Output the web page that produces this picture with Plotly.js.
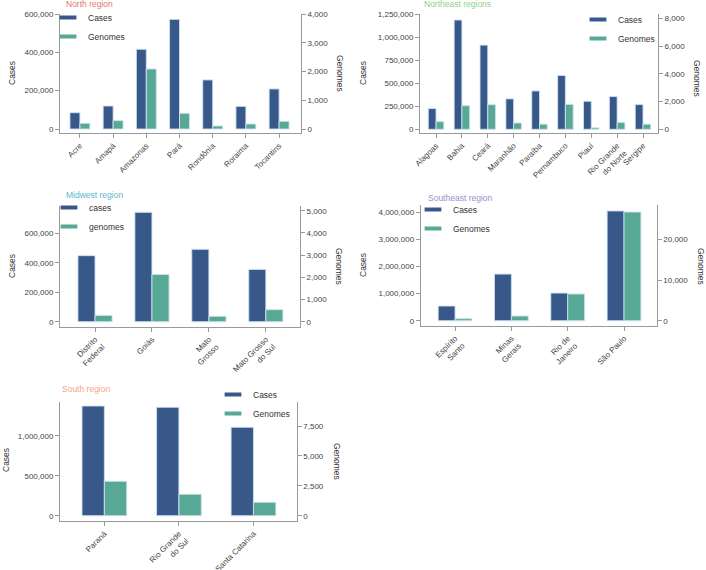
<!DOCTYPE html>
<html>
<head>
<meta charset="utf-8">
<script src="https://cdn.plot.ly/plotly-3.0.1.min.js"></script>
<style>
  html, body { margin: 0; padding: 0; background: #fff; }
  #chart { width: 706px; height: 570px; }
</style>
</head>
<body>
<div id="chart"></div>
<script>
/* DATA */
var northStates = ['Acre', 'Amapá', 'Amazonas', 'Pará', 'Rondônia', 'Roraima', 'Tocantins'];
var northLabels = ['Acre', 'Amapá', 'Amazonas', 'Pará', 'Rondônia', 'Roraima', 'Tocantins'];
var northCases = [85000, 120000, 416000, 572000, 256000, 118000, 209000];
var northGenomes = [198, 290, 2087, 546, 104, 174, 268];

var northeastStates = ['Alagoas', 'Bahia', 'Ceará', 'Maranhão', 'Paraíba', 'Pernambuco', 'Piauí', 'Rio Grande do Norte', 'Sergipe'];
var northeastLabels = ['Alagoas', 'Bahia', 'Ceará', 'Maranhão', 'Paraíba', 'Pernambuco', 'Piauí', 'Rio Grande<br>do Norte', 'Sergipe'];
var northeastCases = [225000, 1185000, 913000, 330000, 416000, 583000, 304000, 355000, 268000];
var northeastGenomes = [550, 1700, 1770, 455, 370, 1800, 105, 500, 370];

var midwestStates = ['Distrito Federal', 'Goiás', 'Mato Grosso', 'Mato Grosso do Sul'];
var midwestLabels = ['Distrito<br>Federal', 'Goiás', 'Mato<br>Grosso', 'Mato Grosso<br>do Sul'];
var midwestCases = [448000, 742000, 491000, 355000];
var midwestGenomes = [285, 2130, 243, 541];

var southeastStates = ['Espírito Santo', 'Minas Gerais', 'Rio de Janeiro', 'São Paulo'];
var southeastLabels = ['Espírito<br>Santo', 'Minas<br>Gerais', 'Rio de<br>Janeiro', 'São Paulo'];
var southeastCases = [542000, 1720000, 1020000, 4050000];
var southeastGenomes = [490, 1150, 6560, 26700];

var southStates = ['Paraná', 'Rio Grande do Sul', 'Santa Catarina'];
var southLabels = ['Paraná', 'Rio Grande<br>do Sul', 'Santa Catarina'];
var southCases = [1376000, 1360000, 1109000];
var southGenomes = [2880, 1790, 1120];

/* STYLE */
var font = 'Liberation Sans, Arial, sans-serif';
var casesColor = '#38588a';
var genomesColor = '#58a896';
var axisColor = '#9a9a9a';

function px(x) { return x / 706; }
function py(y) { return 1 - y / 570; }

var panels = [
	{ states: northStates, labels: northLabels, cases: northCases, genomes: northGenomes,
	  names: ['Cases', 'Genomes'], title: 'North region', titleColor: '#df776c',
	  box: [60, 301, 14, 133], xr: [-0.6, 6.66], yl: [-20870, 600000], yr: [-139, 4000], dl: 200000, dr: 1000,
	  titleXY: [64, 4], casesXY: [12, 73], genomesXY: [340, 73], legendXY: [48, 3] },
	{ states: northeastStates, labels: northeastLabels, cases: northeastCases, genomes: northeastGenomes,
	  names: ['Cases', 'Genomes'], title: 'Northeast regions', titleColor: '#8fd08b',
	  box: [420, 658, 14, 133], xr: [-0.62, 8.58], yl: [-40100, 1250000], yr: [-267, 8310], dl: 250000, dr: 2000,
	  titleXY: [422, 4], casesXY: [363, 73], genomesXY: [697, 78], legendXY: [578, 5] },
	{ states: midwestStates, labels: midwestLabels, cases: midwestCases, genomes: midwestGenomes,
	  names: ['cases', 'genomes'], title: 'Midwest region', titleColor: '#5cb8cc',
	  box: [60, 300, 206, 326.7], xr: [-0.615, 3.6], yl: [-33900, 785000], yr: [-225, 5212], dl: 200000, dr: 1000,
	  titleXY: [64, 195], casesXY: [12, 266], genomesXY: [339, 266], legendXY: [49, 193] },
	{ states: southeastStates, labels: southeastLabels, cases: southeastCases, genomes: southeastGenomes,
	  names: ['Cases', 'Genomes'], title: 'Southeast region', titleColor: '#9a90cc',
	  box: [420.7, 656.7, 205, 325.7], xr: [-0.61, 3.58], yl: [-184000, 4270000], yr: [-1229, 28430], dl: 1000000, dr: 10000,
	  titleXY: [426, 197.5], casesXY: [363, 265], genomesXY: [701, 266], legendXY: [413, 195] },
	{ states: southStates, labels: southLabels, cases: southCases, genomes: southGenomes,
	  names: ['Cases', 'Genomes'], title: 'South region', titleColor: '#f2a78a',
	  box: [60, 296.7, 401.7, 521], xr: [-0.595, 2.58], yl: [-66500, 1430000], yr: [-443, 9540], dl: 500000, dr: 2500,
	  titleXY: [60, 389], casesXY: [6, 460], genomesXY: [337, 461], legendXY: [213, 380] }
];

var data = [];
var layout = {
	width: 706,
	height: 570,
	margin: { l: 0, r: 0, t: 0, b: 0 },
	paper_bgcolor: '#ffffff',
	plot_bgcolor: 'rgba(0,0,0,0)',
	font: { family: font, size: 8, color: '#444' },
	showlegend: true,
	annotations: []
};

function axisName(n) { return n === 1 ? '' : String(n); }

panels.forEach(function (p, i) {
	var k = i + 1;
	var xs = axisName(k), yl = axisName(2 * k - 1), yr = axisName(2 * k);
	var legendId = 'legend' + axisName(k);
	var barLine = { color: 'rgba(205,225,240,0.9)', width: 1 };

	data.push({
		type: 'bar', x: p.states, y: p.cases, xaxis: 'x' + xs, yaxis: 'y' + yl,
		width: 0.3, offset: -0.3, showlegend: false, hoverinfo: 'x+y',
		marker: { color: casesColor, line: barLine }
	});
	data.push({
		type: 'bar', x: p.states, y: p.genomes, xaxis: 'x' + xs, yaxis: 'y' + yr,
		width: 0.3, offset: 0, showlegend: false, hoverinfo: 'x+y',
		marker: { color: genomesColor, line: barLine }
	});
	// legend entries (short thick strokes like the original key)
	[casesColor, genomesColor].forEach(function (c, j) {
		data.push({
			type: 'scatter', mode: 'markers', x: [null], y: [null],
			xaxis: 'x' + xs, yaxis: 'y' + yl, name: p.names[j], legend: legendId,
			marker: { symbol: 'line-ew', size: 12, color: c, line: { color: c, width: 4 } }
		});
	});

	layout[legendId] = {
		x: px(p.legendXY[0]), y: py(p.legendXY[1]), xanchor: 'left', yanchor: 'top',
		bgcolor: 'rgba(0,0,0,0)', font: { family: font, size: 8.5, color: '#333' },
		tracegroupgap: 0
	};

	layout['xaxis' + xs] = {
		domain: [px(p.box[0]), px(p.box[1])],
		anchor: 'y' + yl,
		type: 'category',
		range: p.xr,
		tickvals: p.states,
		ticktext: p.labels,
		tickangle: -45,
		ticks: 'outside', ticklen: 4, tickcolor: axisColor,
		showline: true, linecolor: axisColor, linewidth: 1,
		showgrid: false, zeroline: false,
		tickfont: { family: font, size: 8, color: '#444' },
		fixedrange: true
	};
	layout['yaxis' + yl] = {
		domain: [py(p.box[3]), py(p.box[2])],
		anchor: 'x' + xs,
		range: p.yl,
		tick0: 0, dtick: p.dl, tickformat: ',d',
		ticks: 'outside', ticklen: 4, tickcolor: axisColor,
		showline: true, linecolor: axisColor, linewidth: 1,
		showgrid: false, zeroline: false,
		tickfont: { family: font, size: 8, color: '#444' },
		fixedrange: true
	};
	layout['yaxis' + yr] = {
		domain: [py(p.box[3]), py(p.box[2])],
		anchor: 'x' + xs,
		overlaying: 'y' + yl,
		side: 'right',
		range: p.yr,
		tick0: 0, dtick: p.dr, tickformat: ',d',
		ticks: 'outside', ticklen: 4, tickcolor: axisColor,
		showline: true, linecolor: axisColor, linewidth: 1,
		showgrid: false, zeroline: false,
		tickfont: { family: font, size: 8, color: '#444' },
		fixedrange: true
	};

	layout.annotations.push({
		text: p.title, xref: 'paper', yref: 'paper', x: px(p.titleXY[0]), y: py(p.titleXY[1]),
		xanchor: 'left', yanchor: 'middle', showarrow: false,
		font: { family: font, size: 8.5, color: p.titleColor }
	});
	layout.annotations.push({
		text: 'Cases', xref: 'paper', yref: 'paper', x: px(p.casesXY[0]), y: py(p.casesXY[1]),
		xanchor: 'center', yanchor: 'middle', textangle: -90, showarrow: false,
		font: { family: font, size: 8.5, color: '#333' }
	});
	layout.annotations.push({
		text: 'Genomes', xref: 'paper', yref: 'paper', x: px(p.genomesXY[0]), y: py(p.genomesXY[1]),
		xanchor: 'center', yanchor: 'middle', textangle: 90, showarrow: false,
		font: { family: font, size: 8.5, color: '#333' }
	});
});

Plotly.newPlot('chart', data, layout, { displayModeBar: false, staticPlot: true });
</script>
</body>
</html>
